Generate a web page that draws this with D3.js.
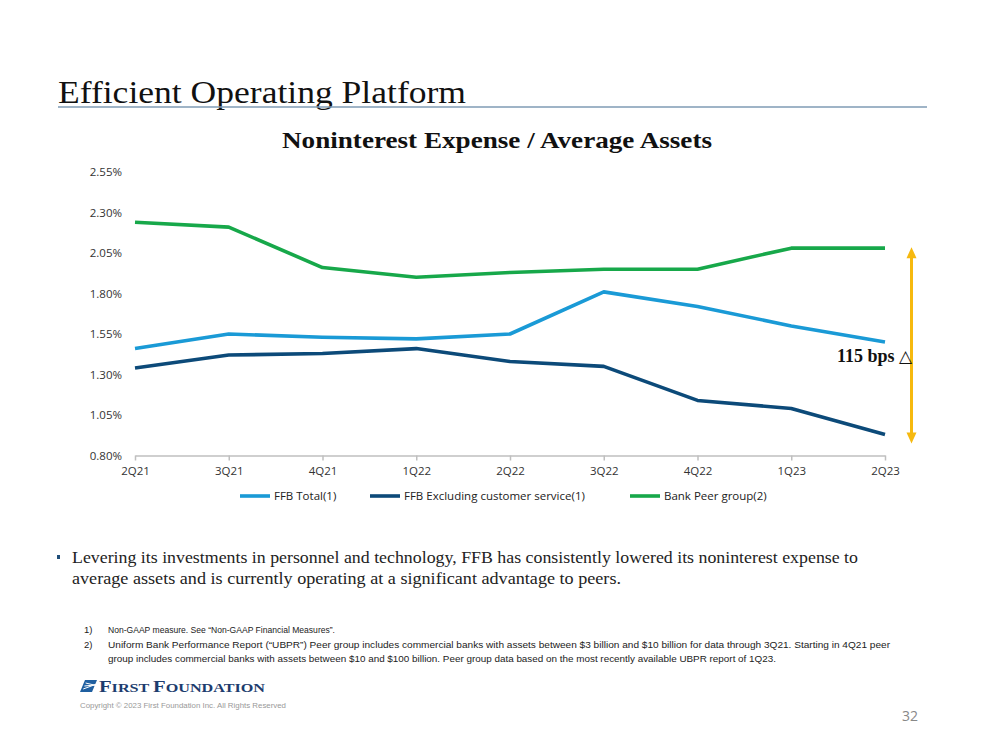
<!DOCTYPE html>
<html><head><meta charset="utf-8">
<script src="https://cdn.jsdelivr.net/npm/d3@7"></script>
<style>body{margin:0;background:#fff}svg{display:block}</style>
</head><body><svg id="c" width="999" height="750"></svg>
<script>
const quarters = ["2Q21","3Q21","4Q21","1Q22","2Q22","3Q22","4Q22","1Q23","2Q23"];
const ffbTotal = [1.46,1.55,1.53,1.52,1.55,1.81,1.72,1.60,1.50];
const ffbExcl = [1.34,1.42,1.43,1.46,1.38,1.35,1.14,1.09,0.93];
const peerGroup = [2.24,2.21,1.96,1.90,1.93,1.95,1.95,2.08,2.08];
const yTicks = [0.80,1.05,1.30,1.55,1.80,2.05,2.30,2.55];
const seriesNames = ["FFB Total(1)","FFB Excluding customer service(1)","Bank Peer group(2)"];
const seriesColors = ["#1a9ad6","#0c4a79","#17a84a"];

const svg = d3.select("#c");
const serif = "'Liberation Serif','DejaVu Serif',serif";
const sans = "'Open Sans','Noto Sans',sans-serif";

// Slide title
svg.append("text").attr("x",58).attr("y",103).attr("font-family",serif).attr("font-size",32)
  .attr("fill","#111").attr("textLength",408).attr("lengthAdjust","spacingAndGlyphs").text("Efficient Operating Platform");
svg.append("line").attr("x1",58).attr("x2",927).attr("y1",107).attr("y2",107).attr("stroke","#7f9bb5").attr("stroke-width",1.6);

// Chart title
svg.append("text").attr("x",497).attr("y",148).attr("text-anchor","middle").attr("font-family",serif)
  .attr("font-weight","bold").attr("font-size",23).attr("fill","#111")
  .attr("textLength",430).attr("lengthAdjust","spacingAndGlyphs").text("Noninterest Expense / Average Assets");

const x = d3.scalePoint().domain(quarters).range([135,885]);
const y = d3.scaleLinear().domain([0.80,2.55]).range([455.5,172]);

// Y axis labels
const ya = svg.append("g").attr("transform","translate(122,0)")
  .call(d3.axisLeft(y).tickValues(yTicks).tickSize(0).tickPadding(0).tickFormat(d=>d.toFixed(2)+"%"));
ya.select(".domain").remove();
ya.selectAll("text").attr("font-family",sans).attr("font-size",11.5).attr("fill","#333");

// X axis
const xa = svg.append("g").attr("transform","translate(0,455.5)")
  .call(d3.axisBottom(x).tickSize(5).tickSizeOuter(0).tickPadding(6));
xa.select(".domain").attr("stroke","#bfbfbf").attr("stroke-width",1.5);
xa.selectAll(".tick line").attr("stroke","#bfbfbf").attr("stroke-width",1.5);
xa.selectAll("text").attr("font-family",sans).attr("font-size",11.5).attr("fill","#333");

// Lines
const line = d3.line().x((d,i)=>x(quarters[i])).y(d=>y(d));
[ffbTotal,ffbExcl,peerGroup].forEach((s,k)=>{
  svg.append("path").datum(s).attr("d",line).attr("fill","none")
    .attr("stroke",seriesColors[k]).attr("stroke-width",3.6).attr("stroke-linejoin","round");
});

// Delta arrow
const ax = 911.5;
const yTop = y(peerGroup[8]) - 1, yBot = y(ffbExcl[8]) + 9;
svg.append("line").attr("x1",ax).attr("x2",ax).attr("y1",yTop+8).attr("y2",yBot-8).attr("stroke","#f6b90f").attr("stroke-width",3);
svg.append("path").attr("d",`M${ax},${yTop} L${ax-5},${yTop+11} L${ax+5},${yTop+11} Z`).attr("fill","#f6b90f");
svg.append("path").attr("d",`M${ax},${yBot} L${ax-5},${yBot-11} L${ax+5},${yBot-11} Z`).attr("fill","#f6b90f");
const dl = svg.append("text").attr("x",912).attr("y",362).attr("text-anchor","end").attr("font-family",serif)
  .attr("font-weight","bold").attr("font-size",18).attr("fill","#111");
dl.append("tspan").text("115 bps ");
dl.append("tspan").attr("font-family","'DejaVu Sans',sans-serif").attr("font-weight","bold").attr("font-size",17).text("\u25B3");

// Legend
const legX = [240,370,630];
seriesNames.forEach((n,k)=>{
  svg.append("line").attr("x1",legX[k]).attr("x2",legX[k]+30).attr("y1",496).attr("y2",496)
    .attr("stroke",seriesColors[k]).attr("stroke-width",3.6);
  svg.append("text").attr("x",legX[k]+34).attr("y",500).attr("font-family",sans).attr("font-size",11.5)
    .attr("fill","#222").text(n);
});

// Bullet
svg.append("rect").attr("x",57).attr("y",555).attr("width",3).attr("height",4).attr("fill","#1f4e79");
svg.append("text").attr("x",72).attr("y",563).attr("font-family",serif).attr("font-size",16.5).attr("fill","#222")
  .attr("textLength",786).attr("lengthAdjust","spacingAndGlyphs")
  .text("Levering its investments in personnel and technology, FFB has consistently lowered its noninterest expense to");
svg.append("text").attr("x",72).attr("y",584).attr("font-family",serif).attr("font-size",16.5).attr("fill","#222")
  .attr("textLength",549).attr("lengthAdjust","spacingAndGlyphs")
  .text("average assets and is currently operating at a significant advantage to peers.");

// Footnotes
const fn = "'Liberation Sans Narrow','Liberation Sans',sans-serif";
const foot = [
  [84,633,"1)",null],[108,633,"Non-GAAP measure. See \u201CNon-GAAP Financial Measures\u201D.",227],
  [84,648,"2)",null],[108,648,"Uniform Bank Performance Report (\u201CUBPR\u201D) Peer group includes commercial banks with assets between $3 billion and $10 billion for data through 3Q21. Starting in 4Q21 peer",782],
  [108,662,"group includes commercial banks with assets between $10 and $100 billion. Peer group data based on the most recently available UBPR report of 1Q23.",668]
];
foot.forEach(f=>{
  const t = svg.append("text").attr("x",f[0]).attr("y",f[1]).attr("font-family",fn).attr("font-size",9.5).attr("fill","#222").text(f[2]);
  if(f[3]) t.attr("textLength",f[3]).attr("lengthAdjust","spacingAndGlyphs");
});

// Logo
const lg = svg.append("g").attr("transform","translate(80,680)");
lg.append("path").attr("d","M0,12 L5,0 L17,0 L12,12 Z").attr("fill","#1f5fa0");
[3,6,9].forEach(v=>lg.append("line").attr("x1",2+v*0.4).attr("x2",17).attr("y1",12-v).attr("y2",3+v*0.3).attr("stroke","#fff").attr("stroke-width",1));
const lt = svg.append("text").attr("x",99).attr("y",692).attr("font-family",serif).attr("font-weight","bold")
  .attr("fill","#1d3c6e").attr("textLength",166).attr("lengthAdjust","spacingAndGlyphs");
[["F",16],["IRST ",12.5],["F",16],["OUNDATION",12.5]].forEach(p=>lt.append("tspan").attr("font-size",p[1]).text(p[0]));
svg.append("text").attr("x",80).attr("y",708).attr("font-family",fn).attr("font-size",7.5).attr("fill","#999")
  .attr("textLength",206).attr("lengthAdjust","spacingAndGlyphs").text("Copyright \u00A9 2023 First Foundation Inc. All Rights Reserved");
svg.append("text").attr("x",918).attr("y",721).attr("text-anchor","end").attr("font-family",sans).attr("font-size",14).attr("fill","#888").text("32");
</script></body></html>
